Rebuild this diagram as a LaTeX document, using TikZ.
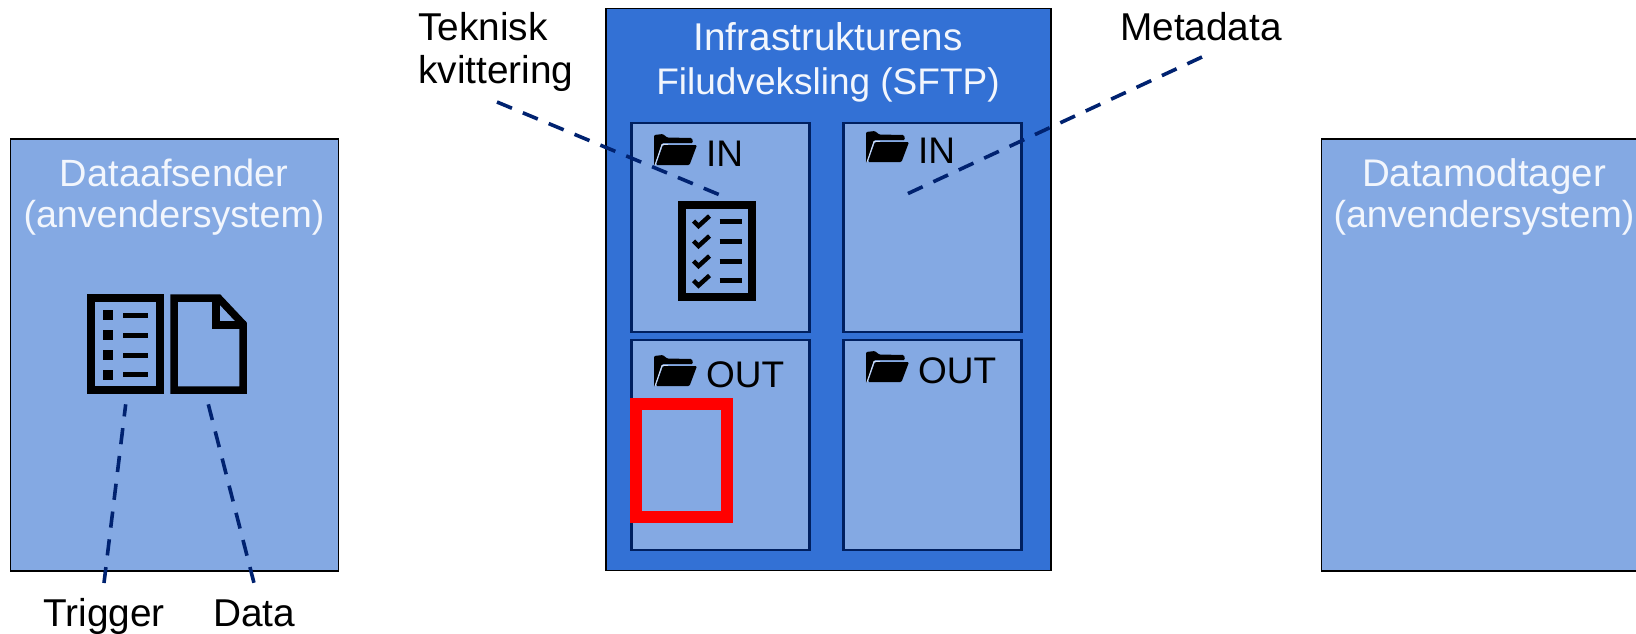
\documentclass[tikz,border=0pt]{standalone}
\usepackage{fontspec}
\setmainfont{Liberation Sans}
\definecolor{mainblue}{HTML}{3371D5}
\definecolor{lightblue}{HTML}{84A9E3}
\definecolor{navy}{HTML}{002270}
\definecolor{boxnavy}{HTML}{002060}
\definecolor{paletxt}{HTML}{F2F6FD}
\tikzset{
  x=1pt,y=-1pt,
  outerbox/.style={draw=black,line width=1.5pt,anchor=north west,inner sep=0pt,outer sep=0pt},
  innerbox/.style={draw=boxnavy,line width=2.5pt,fill=lightblue,anchor=north west,inner sep=0pt,outer sep=0pt,minimum width=178pt},
  title/.style={text=paletxt,anchor=base,inner sep=0pt},
  label/.style={text=black,font=\fontsize{38.8}{42}\selectfont,anchor=base,inner sep=0pt},
  folderlabel/.style={text=black,font=\fontsize{37}{42}\selectfont,anchor=base west,inner sep=0pt},
  callout/.style={draw=navy,line width=3.6pt,dash pattern=on 16.2pt off 11.8pt},
  iconline/.style={draw=black,line width=7.5pt,miter limit=10},
  tick/.style={draw=black,line width=5pt},
  checkmark/.style={draw=black,line width=4.5pt},
  pics/folder/.style={code={
    \fill[black,rounded corners=1.2pt] (0,31) -- (0,1) -- (9,0) -- (13,3.5) -- (38,4) -- (39,9) -- (8,9) -- (1,31) -- cycle;
    \fill[black,rounded corners=1.2pt] (9,11) -- (43,11) -- (35.5,31) -- (2,31) -- cycle;
    \draw[paletxt!70!lightblue,line width=0.9pt] (1,31) -- (8,10.5) -- (14,10.5);
  }},
  pics/tickrow/.style={code={
    \draw[checkmark] (0,6) -- (5,11) -- (16,1);
    \draw[tick] (26,6) -- (48,6);
  }},
  pics/bulletrow/.style={code={
    \fill[black] (0,-5) rectangle (10,5);
    \draw[tick] (20,0) -- (45,0);
  }},
}
\begin{document}
\begin{tikzpicture}
\useasboundingbox (0,0) rectangle (1636,633);
\clip (0,0) rectangle (1636,633);
\fill[white] (0,0) rectangle (1636,633);
% outer boxes
\node[outerbox,fill=lightblue,minimum width=328pt,minimum height=432pt] (sender) at (10.5,139) {};
\node[outerbox,fill=lightblue,minimum width=340pt,minimum height=432pt] (receiver) at (1321.5,139) {};
\node[outerbox,fill=mainblue,minimum width=445pt,minimum height=562pt] (sftp) at (606,8.5) {};
% inner boxes
\node[innerbox,minimum height=209pt] (inA) at (631.5,123) {};
\node[innerbox,minimum height=209pt] (inB) at (843.5,123) {};
\node[innerbox,minimum height=210pt] (outA) at (631.5,340) {};
\node[innerbox,minimum height=210pt] (outB) at (843.5,340) {};
% titles
\node[title,font=\fontsize{38.7}{42}\selectfont] (sftpA) at (828,50) {Infrastrukturens};
\node[title,font=\fontsize{37}{42}\selectfont] (sftpB) at (828,94) {Filudveksling (SFTP)};
\node[title,font=\fontsize{38}{42}\selectfont] (sendA) at (174,186) {Dataafsender};
\node[title,font=\fontsize{37.6}{42}\selectfont] (sendB) at (174,227) {(anvendersystem)};
\node[title,font=\fontsize{38.5}{42}\selectfont] (recvA) at (1484,186) {Datamodtager};
\node[title,font=\fontsize{37.6}{42}\selectfont] (recvB) at (1484,227) {(anvendersystem)};
% folders
\pic at (654,134) {folder};
\pic at (866,131) {folder};
\pic at (654,355) {folder};
\pic at (866,351) {folder};
\node[folderlabel] (lblInA) at (706,166) {IN};
\node[folderlabel] (lblInB) at (918,163) {IN};
\node[folderlabel] (lblOutA) at (706,387) {OUT};
\node[folderlabel] (lblOutB) at (918,383) {OUT};
% checklist icon
\draw[iconline] (682,205) rectangle (752,297);
\pic at (693.5,215) {tickrow};
\pic at (693.5,235) {tickrow};
\pic at (693.5,255) {tickrow};
\pic at (693.5,274.5) {tickrow};
% red rectangle
\draw[red,line width=12pt] (636,404) rectangle (727,517);
% list icon
\draw[iconline] (91,298) rectangle (160,390);
\pic at (103,315) {bulletrow};
\pic at (103,335) {bulletrow};
\pic at (103,355) {bulletrow};
\pic at (103,374.5) {bulletrow};
% document icon
\draw[iconline] (174,298) -- (218.5,298) -- (243,324) -- (243,390) -- (174,390) -- cycle;
\draw[draw=black,line width=7.5pt] (216,296) -- (216,325) -- (246,325);
% labels
\node[label,anchor=base west] (tekA) at (418,40) {Teknisk};
\node[label,anchor=base west] (tekB) at (418,83) {kvittering};
\node[label] (meta) at (1201,40) {Metadata};
\node[label] (trig) at (104,626.5) {Trigger};
\node[label] (data) at (254,626.5) {Data};
% callouts
\coordinate (tekStart) at (497,102);
\coordinate (tekEnd) at (720,195);
\coordinate (metaStart) at (1202,57);
\coordinate (metaEnd) at (907,194);
\coordinate (trigStart) at (125.7,404.3);
\coordinate (trigEnd) at (104,583);
\coordinate (dataStart) at (208.3,404.3);
\coordinate (dataEnd) at (254,583);
\draw[callout] (tekStart) -- (tekEnd);
\draw[callout] (metaStart) -- (metaEnd);
\draw[callout,dash phase=4pt] (trigStart) -- (trigEnd);
\draw[callout] (dataStart) -- (dataEnd);
\end{tikzpicture}
\end{document}
